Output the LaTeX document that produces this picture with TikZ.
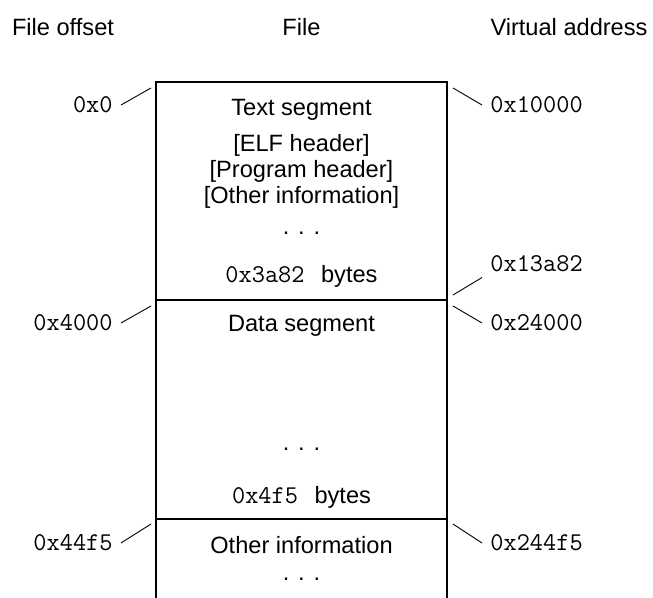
\documentclass[tikz,border=0pt]{standalone}
\usepackage{fontspec}
\setmainfont{Liberation Sans}
\usepackage{tikz}
\usetikzlibrary{positioning, calc}

\begin{document}
\begin{tikzpicture}[
    x = 0.5pt, y = -0.5pt,
    head/.style = {anchor=base, inner sep=0pt, font=\fontsize{11.8}{13}\selectfont},
    seg/.style = {anchor=base, inner sep=0pt, font=\fontsize{11.8}{13}\selectfont},
    addr/.style = {inner sep=0pt, font=\fontsize{12.8}{13}\ttfamily},
    wall/.style = {line width=0.6pt},
    tick/.style = {line width=0.45pt}
]
    \useasboundingbox (0,0) rectangle (653,598);

    \node[head] (hoff) at (63,36) {File offset};
    \node[head] (hfile) at (301.5,36) {File};
    \node[head] (hva) at (569,36) {Virtual address};

    \coordinate (tl) at (156,82);
    \coordinate (tr) at (447,82);
    \coordinate (ml) at (156,300);
    \coordinate (mr) at (447,300);
    \coordinate (nl) at (156,519);
    \coordinate (nr) at (447,519);
    \coordinate (bl) at (156,598);
    \coordinate (br) at (447,598);
    \draw[wall] (bl) -- (tl) -- (tr) -- (br);
    \draw[wall] (ml) -- (mr);
    \draw[wall] (nl) -- (nr);

    \node[seg] (text) at (301.5,116) {Text segment};
    \node[seg] (elf) at (301.5,152) {[ELF header]};
    \node[seg] (phdr) at (301.5,178) {[Program header]};
    \node[seg] (oinfo) at (301.5,204) {[Other information]};
    \node[seg] (tdots) at (301.5,235) {. . .};
    \node[seg] (tsize) at (301.5,283) {{\fontsize{12.8}{13}\ttfamily 0x3a82}\hspace{0.7em}bytes};

    \node[seg] (data) at (301.5,332) {Data segment};
    \node[seg] (ddots) at (301.5,451) {. . .};
    \node[seg] (dsize) at (301.5,503) {{\fontsize{12.8}{13}\ttfamily 0x4f5}\hspace{0.7em}bytes};

    \node[seg] (other) at (301.5,553) {Other information};
    \node[seg] (odots) at (301.5,580) {. . .};

    \node[addr, anchor=east] (off0) at (113,105) {0x0};
    \node[addr, anchor=east] (off1) at (113,323) {0x4000};
    \node[addr, anchor=east] (off2) at (113,543) {0x44f5};
    \node[addr, anchor=west] (va0) at (490,105) {0x10000};
    \node[addr, anchor=west] (va1) at (490,264) {0x13a82};
    \node[addr, anchor=west] (va2) at (490,323) {0x24000};
    \node[addr, anchor=west] (va3) at (490,543) {0x244f5};

    \coordinate (k0) at (151,88);
    \coordinate (k1) at (151,306);
    \coordinate (k2) at (151,524);
    \coordinate (j0) at (453,88);
    \coordinate (j1) at (453,295);
    \coordinate (j2) at (453,306);
    \coordinate (j3) at (453,524);

    \draw[tick] ([xshift=4pt]off0.east) -- (k0);
    \draw[tick] ([xshift=4pt]off1.east) -- (k1);
    \draw[tick] ([xshift=4pt]off2.east) -- (k2);
    \draw[tick] ([xshift=-4pt]va0.west) -- (j0);
    \draw[tick] ([xshift=-4pt,yshift=-2.5pt]va1.south west) -- (j1);
    \draw[tick] ([xshift=-4pt]va2.west) -- (j2);
    \draw[tick] ([xshift=-4pt]va3.west) -- (j3);
\end{tikzpicture}
\end{document}
